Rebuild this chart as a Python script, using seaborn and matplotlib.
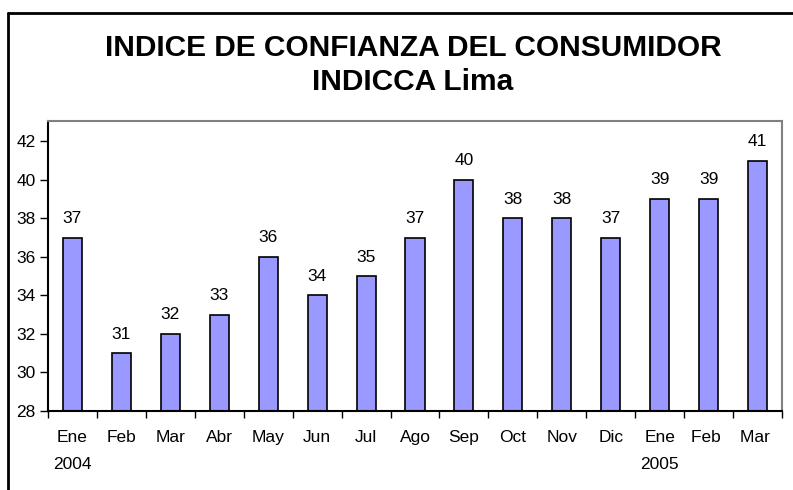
import numpy as np
import pandas as pd
import seaborn as sns
import matplotlib.pyplot as plt
from matplotlib.lines import Line2D

# Data
months = ['Ene\n2004', 'Feb', 'Mar', 'Abr', 'May', 'Jun', 'Jul', 'Ago',
          'Sep', 'Oct', 'Nov', 'Dic', 'Ene\n2005', 'Feb ', 'Mar ']
values = [37, 31, 32, 33, 36, 34, 35, 37, 40, 38, 38, 37, 39, 39, 41]

df = pd.DataFrame({'mes': months, 'indice': values})

sns.set_style('white')
plt.rcParams['font.family'] = ['Liberation Sans', 'DejaVu Sans']
plt.rcParams['text.color'] = 'black'
plt.rcParams['xtick.color'] = 'black'
plt.rcParams['ytick.color'] = 'black'

fig = plt.figure(figsize=(7.93, 4.90), dpi=100)
ax = fig.add_axes([48 / 793, 1 - 411 / 490, (782 - 48) / 793, (411 - 121) / 490])

sns.barplot(data=df, x='mes', y='indice', color='#9999FF', saturation=1,
            edgecolor='black', linewidth=1.2, width=0.39, ax=ax)

ax.set_ylim(28, 43.05)
ax.set_xlim(-0.5, len(months) - 0.5)
ax.set_yticks(np.arange(28, 43, 2))
ax.set_xlabel('')
ax.set_ylabel('')

# value labels
for i, v in enumerate(values):
    ax.text(i, v + 0.6, str(v), ha='center', va='bottom', fontsize=12.5,
            color='black')

# ticks: y outward, x at category boundaries
ax.tick_params(axis='y', direction='out', length=6, width=1, color='black',
               labelsize=12.5, labelcolor='black', pad=3, left=True)
ax.tick_params(axis='x', which='major', length=0, labelsize=12.5,
               labelcolor='black', pad=14)
ax.set_xticks(np.arange(-0.5, len(months), 1), minor=True)
ax.tick_params(axis='x', which='minor', direction='out', length=5, width=1,
               color='black', bottom=True)
for lab in ax.get_xticklabels():
    lab.set_linespacing(1.95)
    lab.set_verticalalignment('top')

for side in ['left', 'bottom']:
    ax.spines[side].set_color('black')
    ax.spines[side].set_linewidth(1.5)
for side in ['top', 'right']:
    ax.spines[side].set_color('#808080')
    ax.spines[side].set_linewidth(1.5)

# title
fig.text(413 / 793, 1 - 48 / 490, 'INDICE DE CONFIANZA DEL CONSUMIDOR',
         ha='center', va='center', fontsize=21.5, fontweight='bold',
         color='black')
fig.text(413 / 793, 1 - 82 / 490, 'INDICCA Lima',
         ha='center', va='center', fontsize=21.5, fontweight='bold',
         color='black')

# outer frame (left and top edges visible)
fx, fy = 8 / 793, 1 - 13 / 490
fig.add_artist(Line2D([fx, fx], [0, fy], transform=fig.transFigure,
                      color='black', linewidth=2))
fig.add_artist(Line2D([fx, 1], [fy, fy], transform=fig.transFigure,
                      color='black', linewidth=2))

fig.savefig('out.png', dpi=100)
